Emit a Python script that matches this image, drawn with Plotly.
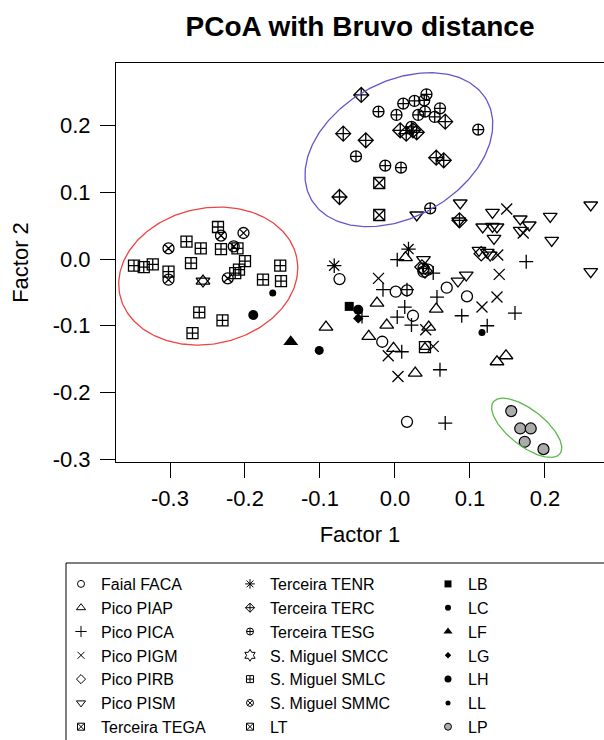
import numpy as np
import plotly.graph_objects as go

# ---------------- data (Factor 1, Factor 2) ----------------
FACA_x = [-0.074, 0.001, 0.024, -0.017, 0.038, 0.044, 0.069, 0.096, 0.016, 0.016]
FACA_y = [-0.030, -0.049, -0.085, -0.124, -0.019, -0.016, -0.043, -0.056, -0.244, -0.047]

PIAP_x = [-0.092, -0.024, -0.011, -0.035, -0.002, 0.045, 0.055, 0.027, 0.136, 0.148, 0.014]
PIAP_y = [-0.102, -0.066, -0.099, -0.116, -0.134, -0.102, -0.075, -0.171, -0.154, -0.145, 0.002]

PICA_x = [0.003, -0.016, 0.056, 0.013, 0.003, 0.022, 0.009, 0.089, 0.060, 0.160, 0.175, 0.123, 0.051, 0.067, -0.044, 0.016]
PICA_y = [-0.001, -0.046, -0.057, -0.072, -0.087, -0.099, -0.139, -0.085, -0.166, -0.081, -0.004, -0.100, -0.021, -0.246, -0.086, -0.046]

PIGM_x = [-0.022, 0.041, 0.051, -0.009, 0.004, 0.116, 0.136, 0.139, 0.149, 0.171, 0.137]
PIGM_y = [-0.029, -0.106, -0.131, -0.145, -0.176, -0.072, -0.057, -0.023, 0.075, 0.039, 0.006]

PIRB_x = [0.036, 0.040, 0.115]
PIRB_y = [-0.012, -0.018, 0.008]

PISM_x = [0.087, 0.130, 0.085, 0.117, 0.130, 0.136, 0.132, 0.167, 0.179, 0.167, 0.207, 0.209, 0.261, 0.261, 0.112, 0.123, 0.127, 0.095, 0.084, 0.029, 0.038]
PISM_y = [0.084, 0.070, 0.057, 0.048, 0.049, 0.048, 0.031, 0.060, 0.051, 0.043, 0.064, 0.028, 0.081, -0.019, 0.013, 0.010, 0.006, -0.024, -0.033, 0.066, -0.001]

TEGA_x = [-0.021, -0.021]
TEGA_y = [0.114, 0.066]

TENR_x = [-0.081, 0.018]
TENR_y = [-0.010, 0.015]

TERC_x = [-0.045, -0.069, -0.039, -0.074, 0.007, 0.015, 0.024, 0.029, 0.067, 0.055, 0.065, 0.086]
TERC_y = [0.246, 0.188, 0.178, 0.093, 0.193, 0.188, 0.193, 0.190, 0.206, 0.152, 0.148, 0.058]

TESG_x = [0.042, 0.011, 0.026, 0.039, -0.022, 0.002, 0.040, 0.053, 0.060, 0.031, -0.052, -0.013, 0.008, 0.047, 0.111, 0.022, 0.038]
TESG_y = [0.247, 0.233, 0.237, 0.238, 0.221, 0.216, 0.221, 0.213, 0.226, 0.216, 0.154, 0.140, 0.137, 0.076, 0.194, 0.198, -0.014]

SMCC_x = [-0.256]
SMCC_y = [-0.033]

SMLC_x = [-0.236, -0.278, -0.259, -0.232, -0.210, -0.200, -0.348, -0.335, -0.323, -0.272, -0.302, -0.213, -0.208, -0.153, -0.176, -0.152, -0.261, -0.230, -0.270]
SMLC_y = [0.048, 0.026, 0.016, 0.015, 0.016, -0.003, -0.010, -0.012, -0.008, -0.006, -0.019, -0.021, -0.016, -0.010, -0.031, -0.033, -0.080, -0.092, -0.111]

SMMC_x = [-0.232, -0.202, -0.302, -0.215, -0.302, -0.223]
SMMC_y = [0.035, 0.039, 0.016, 0.019, -0.031, -0.029]

LT_x = [0.040]
LT_y = [-0.132]

LB_x = [-0.061]
LB_y = [-0.071]
LC_x = [-0.101]
LC_y = [-0.137]
LF_x = [-0.139]
LF_y = [-0.124]
LG_x = [-0.049]
LG_y = [-0.089]
LH_x = [-0.189, -0.049]
LH_y = [-0.084, -0.076]
LL_x = [-0.163, 0.116]
LL_y = [-0.051, -0.110]
LP_x = [0.155, 0.167, 0.181, 0.173, 0.198]
LP_y = [-0.228, -0.254, -0.254, -0.274, -0.285]

X_TICKS = [-0.3, -0.2, -0.1, 0.0, 0.1, 0.2]
X_TICK_TEXT = ["-0.3", "-0.2", "-0.1", "0.0", "0.1", "0.2"]
Y_TICKS = [-0.3, -0.2, -0.1, 0.0, 0.1, 0.2]
Y_TICK_TEXT = ["-0.3", "-0.2", "-0.1", "0.0", "0.1", "0.2"]

# ellipse outlines: centre (data), semi-axes (px), angle (deg, screen), colour
ELLIPSE_RED = dict(cx=-0.249, cy=-0.0255, a=90.4, b=67.9, ang=-12.0, color="#ee4444")
ELLIPSE_BLUE = dict(cx=0.0052, cy=0.164, a=100.8, b=67.7, ang=-29.4, color="#6655c8")
ELLIPSE_GREEN = dict(cx=0.1756, cy=-0.253, a=42.2, b=18.1, ang=38.0, color="#5cb84c")

# ---------------- layout constants ----------------
W, H = 604, 740
M_L, M_R, M_T, M_B = 116, 0, 63, 278
X_RANGE = [-0.372, 0.2787]
Y_RANGE = [-0.3043, 0.2939]
FONT = "Liberation Sans, Arial, Helvetica, sans-serif"

PX_X = (W - M_L - M_R) / (X_RANGE[1] - X_RANGE[0])
PX_Y = (H - M_T - M_B) / (Y_RANGE[1] - Y_RANGE[0])

fig = go.Figure()

LW = 1.3


def add_pts(x, y, symbol, size, color="black", line_color="black", lw=LW):
    fig.add_trace(go.Scatter(
        x=x, y=y, mode="markers", showlegend=False, hoverinfo="skip",
        marker=dict(symbol=symbol, size=size, color=color,
                    line=dict(color=line_color, width=lw)),
        cliponaxis=True,
    ))


add_pts(FACA_x, FACA_y, "circle-open", 11)
add_pts(PIAP_x, PIAP_y, "triangle-up-open", 12)
add_pts(PICA_x, PICA_y, "cross-thin-open", 10)
add_pts(PIGM_x, PIGM_y, "x-thin-open", 11)
add_pts(PIRB_x, PIRB_y, "diamond-open", 11)
add_pts(PISM_x, PISM_y, "triangle-down-open", 12)
add_pts(TEGA_x, TEGA_y, "square-x-open", 11)
add_pts(TENR_x, TENR_y, "asterisk-open", 12)
add_pts(TERC_x, TERC_y, "diamond-cross-open", 11.5)
add_pts(TESG_x, TESG_y, "circle-cross-open", 11)
add_pts(SMCC_x, SMCC_y, "triangle-up-open", 12)
add_pts(SMCC_x, SMCC_y, "triangle-down-open", 12)
add_pts(SMLC_x, SMLC_y, "square-cross-open", 11)
add_pts(SMMC_x, SMMC_y, "circle-x-open", 11)
add_pts(LT_x, LT_y, "square-open", 11)
add_pts(LT_x, LT_y, "triangle-up-open", 9)
add_pts(LB_x, LB_y, "square", 9, lw=0)
add_pts(LC_x, LC_y, "circle", 9, lw=0)
add_pts(LF_x, LF_y, "triangle-up", 13, lw=0)
add_pts(LG_x, LG_y, "diamond", 8, lw=0)
add_pts(LH_x, LH_y, "circle", 10, lw=0)
add_pts(LL_x, LL_y, "circle", 7, lw=0)
add_pts(LP_x, LP_y, "circle", 11, color="#ababab", lw=1.2)


def add_ellipse(e, n=240):
    t = np.linspace(0, 2 * np.pi, n)
    th = np.radians(e["ang"])
    dx = e["a"] * np.cos(th) * np.cos(t) - e["b"] * np.sin(th) * np.sin(t)
    dy = e["a"] * np.sin(th) * np.cos(t) + e["b"] * np.cos(th) * np.sin(t)
    fig.add_trace(go.Scatter(
        x=e["cx"] + dx / PX_X, y=e["cy"] - dy / PX_Y, mode="lines",
        line=dict(color=e["color"], width=1.3), showlegend=False, hoverinfo="skip",
    ))


add_ellipse(ELLIPSE_RED)
add_ellipse(ELLIPSE_BLUE)
add_ellipse(ELLIPSE_GREEN)

# ---------------- legend entries (3 columns) ----------------
LEGEND_COLS = [
    [("Faial FACA", "circle-open", 7, "black"),
     ("Pico PIAP", "triangle-up-open", 8, "black"),
     ("Pico PICA", "cross-thin-open", 8, "black"),
     ("Pico PIGM", "x-thin-open", 7, "black"),
     ("Pico PIRB", "diamond-open", 7, "black"),
     ("Pico PISM", "triangle-down-open", 8, "black"),
     ("Terceira TEGA", "square-x-open", 7, "black")],
    [("Terceira TENR", "asterisk-open", 8, "black"),
     ("Terceira TERC", "diamond-cross-open", 7, "black"),
     ("Terceira TESG", "circle-cross-open", 7, "black"),
     ("S. Miguel SMCC", "hexagram-open", 9, "black"),
     ("S. Miguel SMLC", "square-cross-open", 7, "black"),
     ("S. Miguel SMMC", "circle-x-open", 7, "black"),
     ("LT", "square-x-open", 7, "black")],
    [("LB", "square", 7, "black"),
     ("LC", "circle", 6, "black"),
     ("LF", "triangle-up", 8, "black"),
     ("LG", "diamond", 5, "black"),
     ("LH", "circle", 7, "black"),
     ("LL", "circle", 5, "black"),
     ("LP", "circle", 7, "#ababab")],
]
LEGEND_NAMES = ["legend", "legend2", "legend3"]

for col, lname in zip(LEGEND_COLS, LEGEND_NAMES):
    for name, sym, sz, colr in col:
        filled = not sym.endswith("-open")
        fig.add_trace(go.Scatter(
            x=[None], y=[None], mode="markers", name=name, legend=lname,
            marker=dict(symbol=sym, size=sz, color=colr,
                        line=dict(color="black", width=1.0 if (not filled or colr != "black") else 0)),
        ))

plot_w = W - M_L - M_R
plot_h = H - M_T - M_B


def px_to_paper_x(px):
    return (px - M_L) / plot_w


def px_to_paper_y(py):
    return (H - M_B - py) / plot_h


legend_left_px = [61, 230, 428]
legend_top_px = 567
leg_common = dict(font=dict(family=FONT, size=16, color="black"), bgcolor="rgba(0,0,0,0)",
                  borderwidth=0, xanchor="left", yanchor="top", orientation="v",
                  traceorder="normal", itemclick=False, itemdoubleclick=False)

legends = {}
for lname, lx in zip(LEGEND_NAMES, legend_left_px):
    legends[lname] = dict(x=px_to_paper_x(lx), y=px_to_paper_y(legend_top_px), **leg_common)

# legend frame
fig.add_shape(type="rect", xref="paper", yref="paper",
              x0=px_to_paper_x(66), x1=px_to_paper_x(640),
              y0=px_to_paper_y(563), y1=px_to_paper_y(760),
              line=dict(color="black", width=1), fillcolor="rgba(0,0,0,0)", layer="above")

fig.update_layout(
    width=W, height=H,
    margin=dict(l=M_L, r=M_R, t=M_T, b=M_B, autoexpand=False),
    paper_bgcolor="white", plot_bgcolor="white",
    font=dict(family=FONT, color="black"),
    title=dict(text="<b>PCoA with Bruvo distance</b>", font=dict(family=FONT, size=28, color="black"),
               x=0.5, xref="paper", xanchor="center",
               y=1 - 26 / H, yref="container", yanchor="middle"),
    xaxis=dict(range=X_RANGE, tickvals=X_TICKS, ticktext=X_TICK_TEXT,
               showgrid=False, zeroline=False, showline=True, linecolor="black", linewidth=1,
               mirror=True, ticks="outside", ticklen=15, tickwidth=1, tickcolor="black",
               ticklabelstandoff=2,
               tickfont=dict(family=FONT, size=22, color="black"),
               title=dict(text="Factor 1", font=dict(family=FONT, size=22, color="black"), standoff=16)),
    yaxis=dict(range=Y_RANGE, tickvals=Y_TICKS, ticktext=Y_TICK_TEXT,
               showgrid=False, zeroline=False, showline=True, linecolor="black", linewidth=1,
               mirror=False, ticks="outside", ticklen=15, tickwidth=1, tickcolor="black",
               ticklabelstandoff=5,
               tickfont=dict(family=FONT, size=22, color="black"),
               title=dict(text="Factor 2", font=dict(family=FONT, size=22, color="black"), standoff=17)),
    **legends,
)

fig.write_html(
    "out.html",
    config={"displayModeBar": False},
    post_script="document.body.style.margin='0px';document.body.style.overflow='hidden';"
                "document.documentElement.style.overflow='hidden';",
)
